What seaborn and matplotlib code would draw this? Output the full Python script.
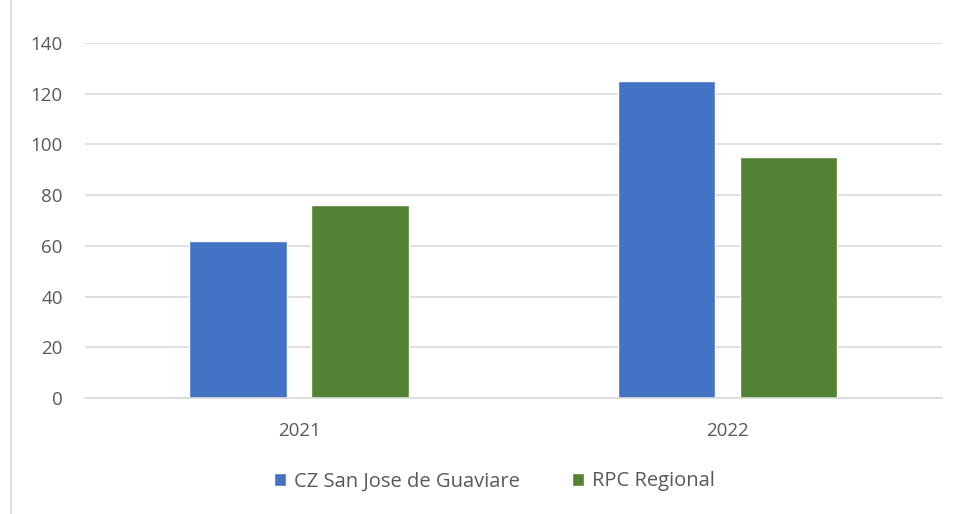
import seaborn as sns
import pandas as pd
import matplotlib.pyplot as plt
from matplotlib.lines import Line2D

years = ["2021", "2022"]
series = ["CZ San Jose de Guaviare", "RPC Regional"]
cz_values = [62, 125]
rpc_values = [76, 95]

df = pd.DataFrame({
    "year": years * 2,
    "serie": [series[0]] * 2 + [series[1]] * 2,
    "value": cz_values + rpc_values,
})

sns.set_style("white")
plt.rcParams["font.family"] = ["Open Sans", "DejaVu Sans"]

fig = plt.figure(figsize=(9.56, 5.14), dpi=100)
ax = fig.add_axes([0.089, 0.2257, 0.896, 0.6906])

sns.barplot(data=df, x="year", y="value", hue="serie", order=years, hue_order=series,
            palette=["#4472C4", "#548235"], width=0.57, gap=0.2, ax=ax,
            saturation=1, legend=True)

ax.set_ylim(0, 140)
ax.set_xlim(-0.5, 1.5)
ax.set_yticks(range(0, 141, 20))
ax.yaxis.grid(True, color="#d9d9d9", linewidth=1.2)
ax.set_axisbelow(True)
for s in ["top", "right", "left"]:
    ax.spines[s].set_visible(False)
ax.spines["bottom"].set_color("#d9d9d9")
ax.spines["bottom"].set_linewidth(1.2)
ax.tick_params(axis="both", length=0, labelsize=13.5, colors="#595959")
ax.tick_params(axis="y", pad=16)
ax.tick_params(axis="x", pad=17)
ax.set_xlabel("")
ax.set_ylabel("")

handles, labels = ax.get_legend_handles_labels()
ax.legend(handles, labels, loc="center", bbox_to_anchor=(0.478, -0.235), ncol=2,
          frameon=False, fontsize=14.5, handlelength=0.6, handleheight=0.6,
          columnspacing=2.6, handletextpad=0.4, labelcolor="#595959")

fig.add_artist(Line2D([0.011, 0.011], [0, 1], color="#d9d9d9", linewidth=1.2))

fig.savefig("out.png", dpi=100)
